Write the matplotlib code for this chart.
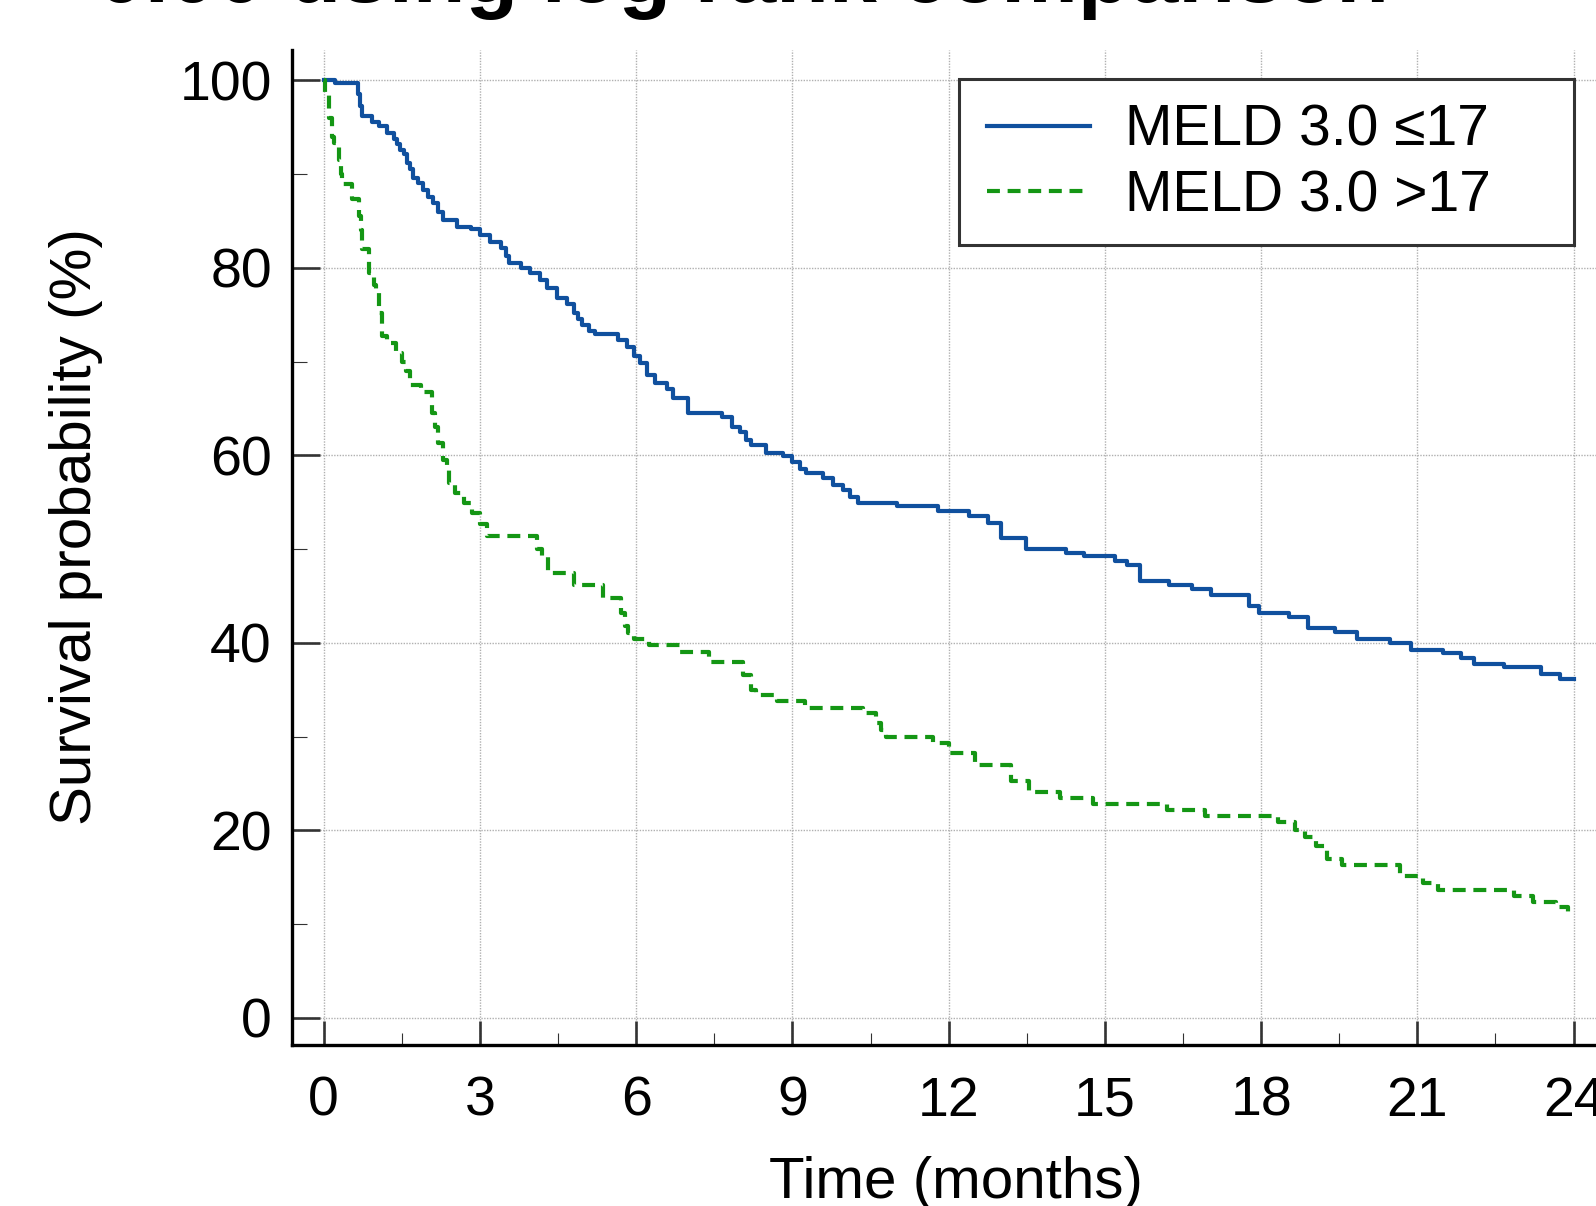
import matplotlib
matplotlib.use("Agg")
import matplotlib.pyplot as plt
from matplotlib.patches import Rectangle
from matplotlib.ticker import MultipleLocator

plt.rcParams['font.family'] = ['Liberation Sans', 'DejaVu Sans']

# Kaplan-Meier curves (months, survival %)
t_low = [0, 0.22, 0.66, 0.70, 0.74, 0.93, 1.06, 1.22, 1.34, 1.41, 1.46, 1.54, 1.60, 1.66,
         1.72, 1.82, 1.90, 2.00, 2.10, 2.20, 2.30, 2.56, 2.82, 3.00, 3.20, 3.40, 3.50, 3.56,
         3.78, 3.97, 4.16, 4.29, 4.48, 4.67, 4.80, 4.88, 4.95, 5.10, 5.20, 5.66, 5.82, 5.95,
         6.08, 6.20, 6.36, 6.59, 6.71, 7.00, 7.65, 7.84, 8.00, 8.10, 8.20, 8.50, 8.82, 9.00,
         9.14, 9.27, 9.59, 9.78, 9.97, 10.10, 10.26, 11.00, 11.80, 12.40, 12.75, 13.00, 13.48,
         14.25, 14.60, 15.20, 15.42, 15.68, 16.23, 16.67, 17.04, 17.77, 17.95, 18.54, 18.90,
         19.41, 19.85, 20.48, 20.88, 21.50, 21.83, 22.09, 22.67, 23.37, 23.73, 24.0]
s_low = [100, 99.7, 98.5, 97.3, 96.2, 95.6, 95.1, 94.4, 93.7, 93.2, 92.6, 92.1, 91.2, 90.5,
         89.6, 89.1, 88.3, 87.6, 86.9, 86.0, 85.1, 84.4, 84.1, 83.5, 82.8, 82.1, 81.3, 80.5,
         80.0, 79.5, 78.7, 77.9, 76.8, 76.1, 75.2, 74.6, 73.9, 73.3, 72.9, 72.3, 71.6, 70.6,
         69.9, 68.6, 67.7, 67.1, 66.1, 64.55, 64.1, 63.0, 62.5, 61.6, 61.1, 60.3, 59.9, 59.3,
         58.6, 58.1, 57.6, 56.8, 56.3, 55.6, 54.9, 54.6, 54.1, 53.5, 52.8, 51.2, 50.0,
         49.6, 49.25, 48.7, 48.3, 46.6, 46.2, 45.8, 45.1, 43.9, 43.2, 42.8, 41.6,
         41.2, 40.4, 40.0, 39.3, 38.9, 38.4, 37.8, 37.4, 36.7, 36.2, 36.2]

t_high = [0, 0.03, 0.10, 0.15, 0.19, 0.29, 0.33, 0.35, 0.54, 0.67, 0.72, 0.74, 0.86, 0.96,
          1.00, 1.06, 1.12, 1.22, 1.38, 1.50, 1.58, 1.66, 1.86, 2.08, 2.14, 2.20, 2.30, 2.36,
          2.40, 2.53, 2.69, 2.85, 3.00, 3.14, 4.10, 4.20, 4.30, 4.80, 5.37, 5.70, 5.78, 5.85,
          5.95, 6.25, 6.85, 7.40, 8.05, 8.20, 8.30, 8.70, 9.25, 10.35, 10.60, 10.70, 10.80,
          11.70, 12.00, 12.50, 13.20, 13.55, 14.14, 14.77, 16.19, 16.93, 18.32, 18.65, 18.85,
          19.05, 19.27, 19.56, 20.66, 21.10, 21.39, 22.85, 23.22, 23.66, 23.90, 24.0]
s_high = [100, 98.5, 96.0, 94.0, 93.3, 91.5, 90.0, 88.9, 87.3, 85.5, 84.0, 82.0, 79.5, 78.2,
          77.3, 75.2, 72.7, 72.0, 70.9, 70.0, 69.0, 67.5, 66.8, 64.5, 63.0, 61.3, 59.5, 58.5,
          57.1, 56.0, 54.9, 53.9, 52.7, 51.4, 50.0, 49.2, 47.5, 46.2, 44.8, 43.2, 41.8, 41.1,
          40.4, 39.8, 39.0, 38.0, 36.6, 35.0, 34.5, 33.8, 33.1, 32.5, 31.5, 30.7, 30.0,
          29.3, 28.3, 27.0, 25.3, 24.1, 23.5, 22.8, 22.2, 21.5, 20.9, 20.1, 19.3,
          18.3, 17.0, 16.3, 15.1, 14.4, 13.7, 13.0, 12.4, 11.8, 11.2, 11.2]

labels = ['MELD 3.0 \u226417', 'MELD 3.0 >17']
title_text = '0.00 using log rank comparison'

W, H = 1596, 1206
fig = plt.figure(figsize=(W / 100, H / 100), dpi=100)

# axes placed in pixel terms; right side runs off the picture like the original crop
ax = fig.add_axes([292 / W, 1 - 1045 / H, (W - 292) / W, (1045 - 50) / H])
ax.set_xlim(-0.609, 24.43)
ax.set_ylim(-2.88, 103.24)

ax.step(t_low, s_low, where='post', color='#10509e', lw=3.0, label=labels[0], zorder=3)
ax.step(t_high, s_high, where='post', color='#149614', lw=3.0, ls=(0, (3.1, 1.85)),
        label=labels[1], zorder=3)

# axis cosmetics
for side in ['top', 'right']:
    ax.spines[side].set_visible(False)
for side in ['left', 'bottom']:
    ax.spines[side].set_linewidth(2.4)
    ax.spines[side].set_color('black')

ax.xaxis.set_minor_locator(MultipleLocator(1.5))
ax.yaxis.set_minor_locator(MultipleLocator(10))
ax.set_xticks([0, 3, 6, 9, 12, 15, 18, 21, 24])
ax.set_yticks([0, 20, 40, 60, 80, 100])

ax.tick_params(axis='x', which='major', direction='in', length=17.3, width=1.9,
               color='#333333', labelsize=40, pad=22)
ax.tick_params(axis='x', which='minor', direction='in', length=8.6, width=0.8, color='#333333')
ax.tick_params(axis='y', which='major', direction='in', length=20.5, width=1.9,
               color='#333333', labelsize=40, pad=14.5)
ax.tick_params(axis='y', which='minor', direction='in', length=10.6, width=0.8, color='#333333')

ax.set_axisbelow(True)
ax.grid(True, which='major', color='#b0b0b0', ls=(0, (1, 1)), lw=1.0)

ax.set_xlabel('Time (months)', fontsize=42)
ax.xaxis.set_label_coords((956 - 292) / (W - 292), -(1156 - 1045) / 995)
ax.set_ylabel('Survival probability (%)', fontsize=42)
ax.yaxis.set_label_coords(-(292 - 103) / (W - 292), (1045 - 527) / 995)

# legend: drawn without frame, box added by hand (wide right margin in original)
leg = ax.legend(loc='upper left', bbox_to_anchor=(987 / W, 1 - 104 / H),
                bbox_transform=fig.transFigure, frameon=False, fontsize=41,
                handlelength=1.8, handletextpad=0.62, borderpad=0, borderaxespad=0,
                labelspacing=0.2)
leg.set_zorder(6)
box = Rectangle((959 / W, 1 - 245 / H), (1574 - 959) / W, (245 - 79) / H,
                transform=fig.transFigure, facecolor='white', edgecolor='#333333',
                lw=2.2, zorder=5, clip_on=False)
ax.add_patch(box)

# title, only the bottom of it shows at the top edge
fig.text(97 / W, 1 - 2 / H, title_text, fontsize=62, fontweight='bold', va='baseline')

fig.savefig('out.png', dpi=100)
